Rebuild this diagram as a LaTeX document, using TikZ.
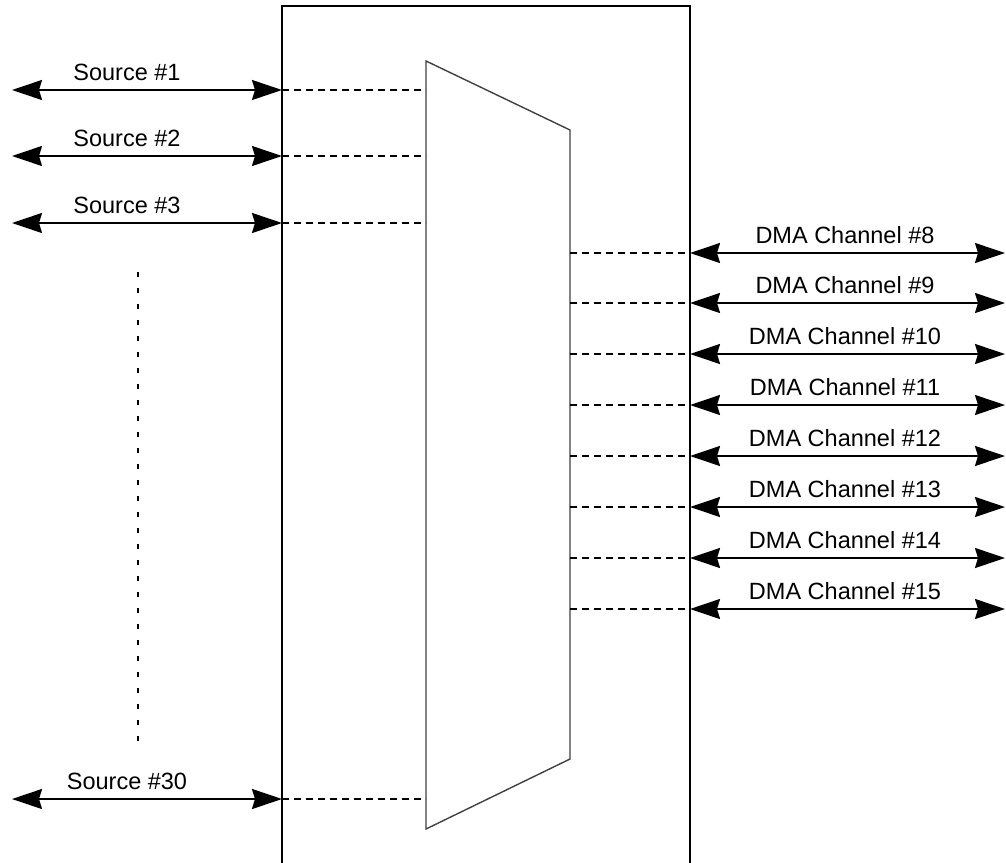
\documentclass[tikz,border=0pt]{standalone}
\usepackage{fontspec}
\setmainfont{Liberation Sans}
\usetikzlibrary{arrows.meta}
\begin{document}
\begin{tikzpicture}[x=1pt,y=-1pt,
  bus/.style={line width=2pt,{Stealth[length=30pt,width=20pt,inset=3pt]}-{Stealth[length=30pt,width=20pt,inset=3pt]}},
  link/.style={line width=1.8pt,dash pattern=on 7pt off 5pt},
  lbl/.style={font=\fontsize{23.5}{28}\selectfont,inner sep=0pt,anchor=base},
  frame/.style={line width=2pt},
  mux/.style={line width=1.4pt,draw=black!75}]
\useasboundingbox (0,0) rectangle (1006,862);
% outer box (open at bottom edge of picture)
\coordinate (bl) at (282,866);
\coordinate (tl) at (282,6);
\coordinate (tr) at (690,6);
\coordinate (br) at (690,866);
\draw[frame] (bl) -- (tl) -- (tr) -- (br);
% multiplexer
\coordinate (m1) at (426,61);
\coordinate (m2) at (570,130);
\coordinate (m3) at (570,759);
\coordinate (m4) at (426,829);
\draw[mux] (m1) -- (m2) -- (m3) -- (m4) -- cycle;
% sources
\foreach \i/\y/\t in {1/90/Source \#1,2/156/Source \#2,3/223/Source \#3,30/799/Source \#30}{
  \coordinate (sl\i) at (12,\y);
  \coordinate (sr\i) at (282,\y);
  \coordinate (sm\i) at (426,\y);
  \draw[bus] (sl\i) -- (sr\i);
  \draw[link] (sr\i) -- (sm\i);
  \node[lbl] (st\i) at (127,\y-10) {\t};
}
% ellipsis
\coordinate (d1) at (138,272);
\coordinate (d2) at (138,742);
\draw[line width=1.6pt,dash pattern=on 5pt off 11pt] (d1) -- (d2);
% DMA channels
\foreach \i/\y in {8/253,9/303,10/354,11/405,12/456,13/507,14/558,15/609}{
  \coordinate (cm\i) at (570,\y);
  \coordinate (cl\i) at (690,\y);
  \coordinate (cr\i) at (1005,\y);
  \draw[link] (cm\i) -- (cl\i);
  \draw[bus] (cl\i) -- (cr\i);
  \node[lbl] (ct\i) at (845,\y-10) {DMA Channel \#\i};
}
\end{tikzpicture}
\end{document}
